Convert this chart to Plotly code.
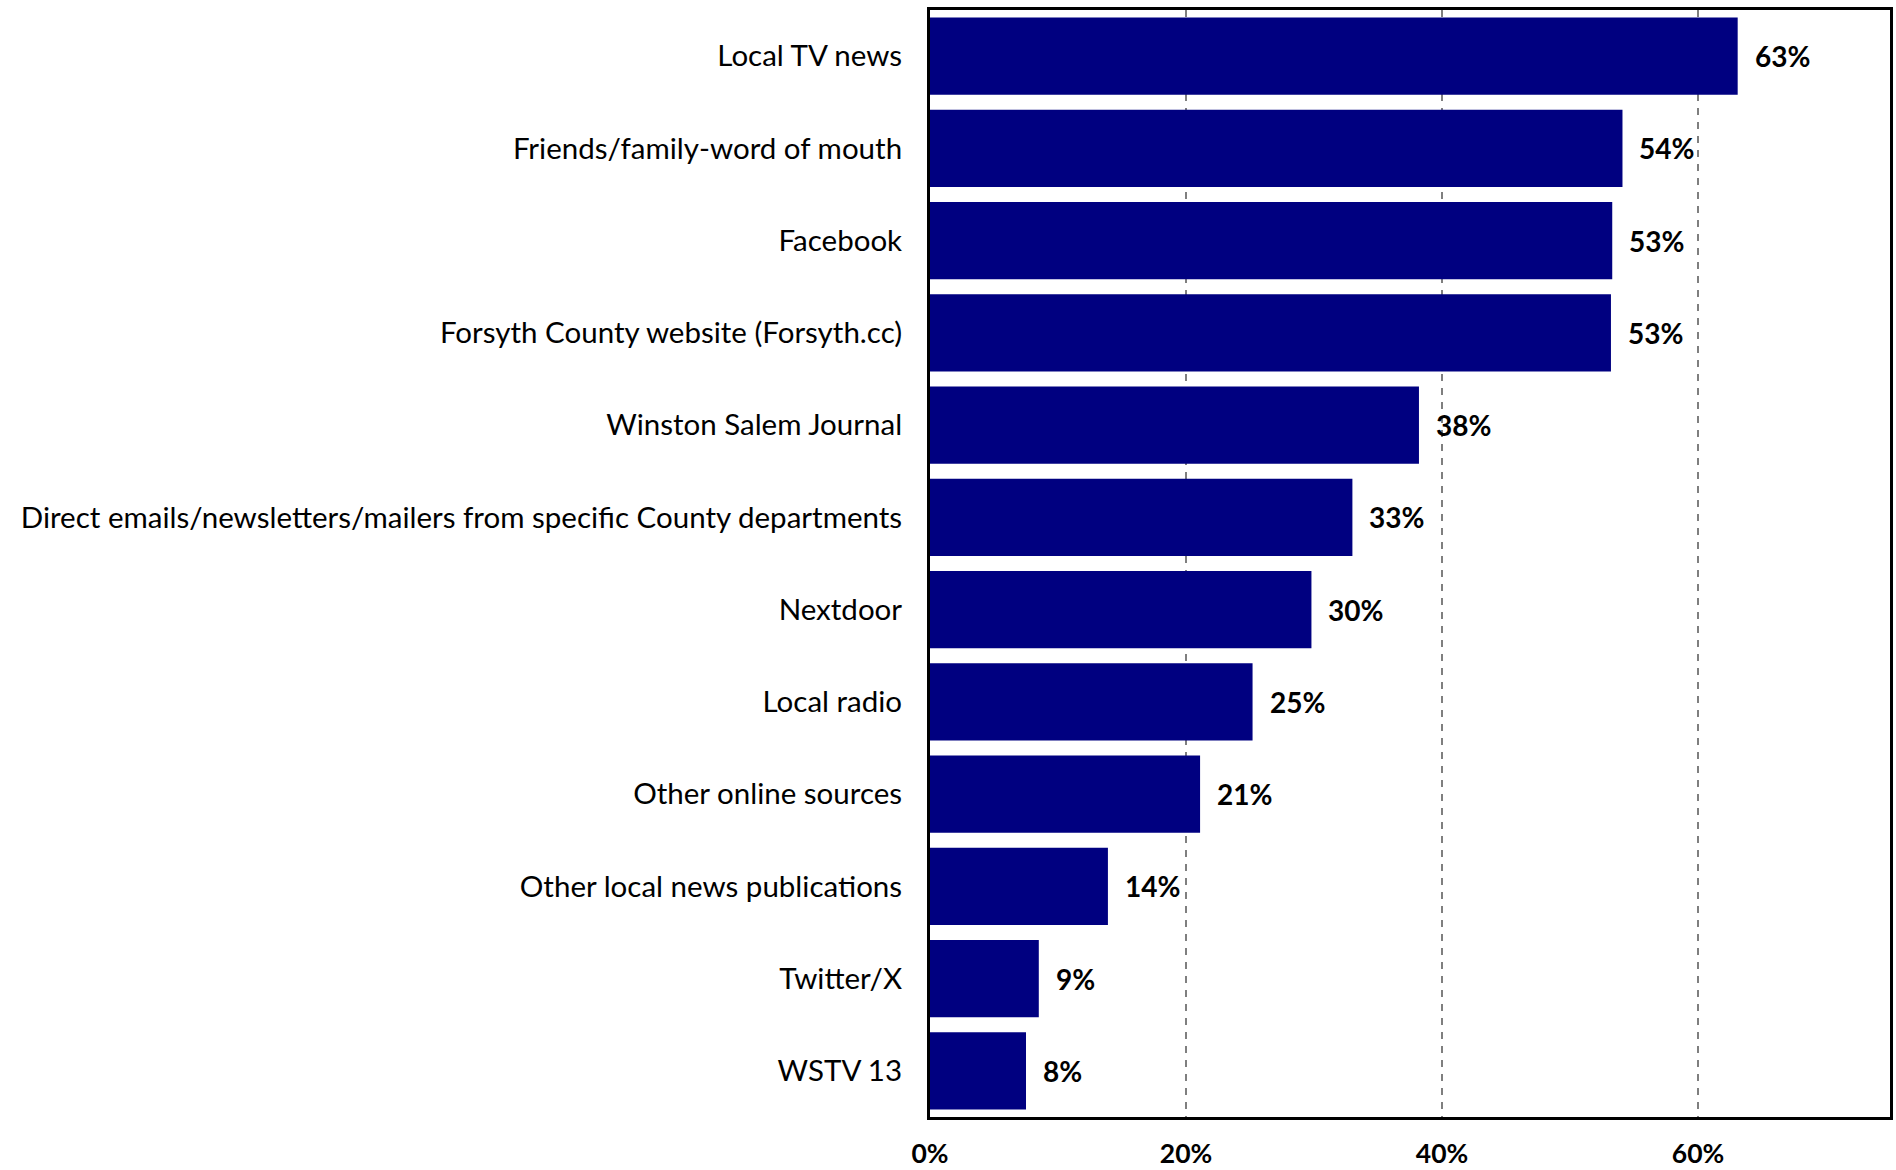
import plotly.graph_objects as go

categories = [
    "Local TV news",
    "Friends/family-word of mouth",
    "Facebook",
    "Forsyth County website (Forsyth.cc)",
    "Winston Salem Journal",
    "Direct emails/newsletters/mailers from specific County departments",
    "Nextdoor",
    "Local radio",
    "Other online sources",
    "Other local news publications",
    "Twitter/X",
    "WSTV 13",
]
values = [63.1, 54.1, 53.3, 53.2, 38.2, 33.0, 29.8, 25.2, 21.1, 13.9, 8.5, 7.5]
labels = ["63%", "54%", "53%", "53%", "38%", "33%", "30%", "25%", "21%", "14%", "9%", "8%"]
tick_vals = [0, 20, 40, 60]
tick_text = ["0%", "20%", "40%", "60%"]

FONT = "Lato"

fig = go.Figure()
fig.add_trace(go.Bar(
    y=categories,
    x=values,
    orientation="h",
    marker=dict(color="#000080", line=dict(width=0)),
    width=0.84,
    hoverinfo="skip",
))

for c, v, t in zip(categories, values, labels):
    fig.add_annotation(
        x=v, y=c, text="<b>%s</b>" % t, showarrow=False,
        xanchor="left", yanchor="middle", xshift=15,
        font=dict(family=FONT, size=28, color="black"),
    )

fig.update_layout(
    width=1896, height=1170,
    margin=dict(l=930, r=6, t=10, b=53, autoexpand=False),
    paper_bgcolor="white", plot_bgcolor="white",
    showlegend=False,
    font=dict(family=FONT, color="black"),
)
fig.update_xaxes(
    range=[0, 75],
    tickvals=tick_vals,
    ticktext=["<b>%s</b>" % t for t in tick_text],
    tickfont=dict(family=FONT, size=26.5, color="black"),
    showgrid=True, gridcolor="#7f7f7f", griddash="7px,7px", gridwidth=1.5,
    zeroline=False,
    showline=True, linecolor="black", linewidth=3, mirror=True,
    ticks="", ticklabelstandoff=11,
    automargin=False,
    fixedrange=True,
)
fig.update_yaxes(
    categoryorder="array", categoryarray=categories, autorange="reversed",
    tickfont=dict(family=FONT, size=29.5, color="black"),
    showgrid=False, zeroline=False,
    showline=True, linecolor="black", linewidth=3, mirror=True,
    ticks="", ticklabelstandoff=19,
    automargin=False,
    fixedrange=True,
)

fig.write_html(
    "out.html",
    config={"displayModeBar": False, "staticPlot": True},
    post_script="document.body.style.margin='0';document.body.style.overflow='hidden';",
)
